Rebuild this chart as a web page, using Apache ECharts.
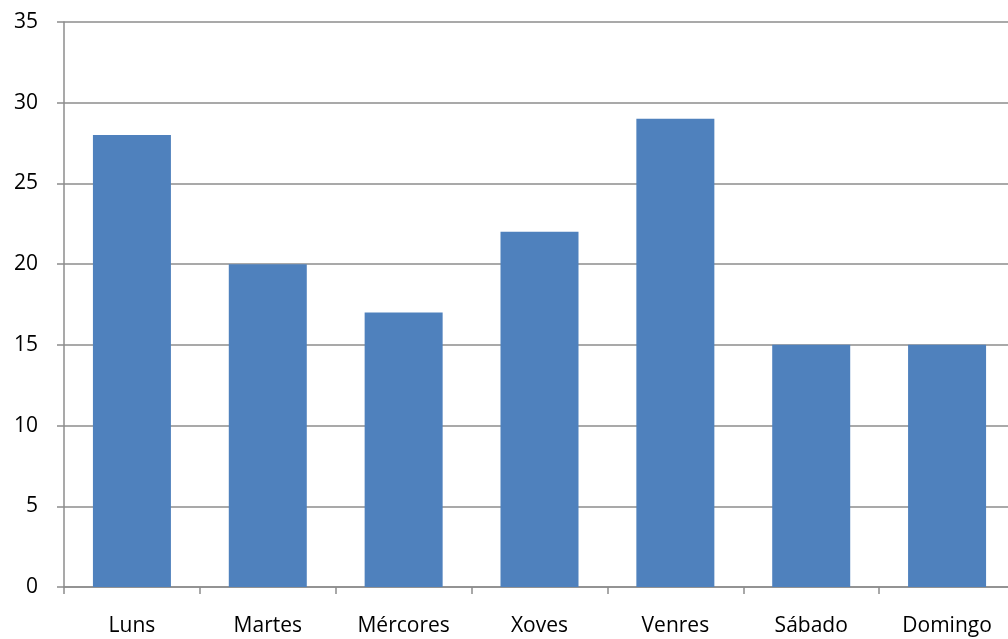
<!DOCTYPE html>
<html><head><meta charset="utf-8">
<script src="https://cdn.jsdelivr.net/npm/echarts@6/dist/echarts.min.js"></script>
<style>html,body{margin:0;padding:0;background:#fff}#c{width:1008px;height:639px}</style>
</head><body><div id="c"></div>
<script>
const categories = ['Luns','Martes','Mércores','Xoves','Venres','Sábado','Domingo'];
const values = [28, 20, 17, 22, 29, 15, 15];
const yTicks = {min: 0, max: 35, interval: 5};
const chart = echarts.init(document.getElementById('c'));
chart.setOption({
  animation: false,
  grid: {left: 64, top: 22, width: 951, height: 565, containLabel: false, outerBoundsMode: 'none'},
  xAxis: {
    type: 'category', data: categories, boundaryGap: true,
    axisLine: {lineStyle: {color: '#8c8c8c', width: 1.5}},
    axisTick: {show: true, length: 7, lineStyle: {color: '#8c8c8c', width: 1.5}},
    axisLabel: {color: '#000', fontSize: 21, fontFamily: 'Open Sans', margin: 29, interval: 0},
    splitLine: {show: false}
  },
  yAxis: {
    type: 'value', min: yTicks.min, max: yTicks.max, interval: yTicks.interval,
    axisLine: {show: true, lineStyle: {color: '#8c8c8c', width: 1.5}},
    axisTick: {show: true, length: 7, lineStyle: {color: '#8c8c8c', width: 1.5}},
    axisLabel: {color: '#000', fontSize: 21, fontFamily: 'Open Sans', margin: 26, padding: [4, 0, 0, 0]},
    splitLine: {show: true, lineStyle: {color: '#8c8c8c', width: 1.5}}
  },
  series: [{
    type: 'bar', data: values, barWidth: 78,
    itemStyle: {color: '#4F81BD'}
  }]
});
</script></body></html>
